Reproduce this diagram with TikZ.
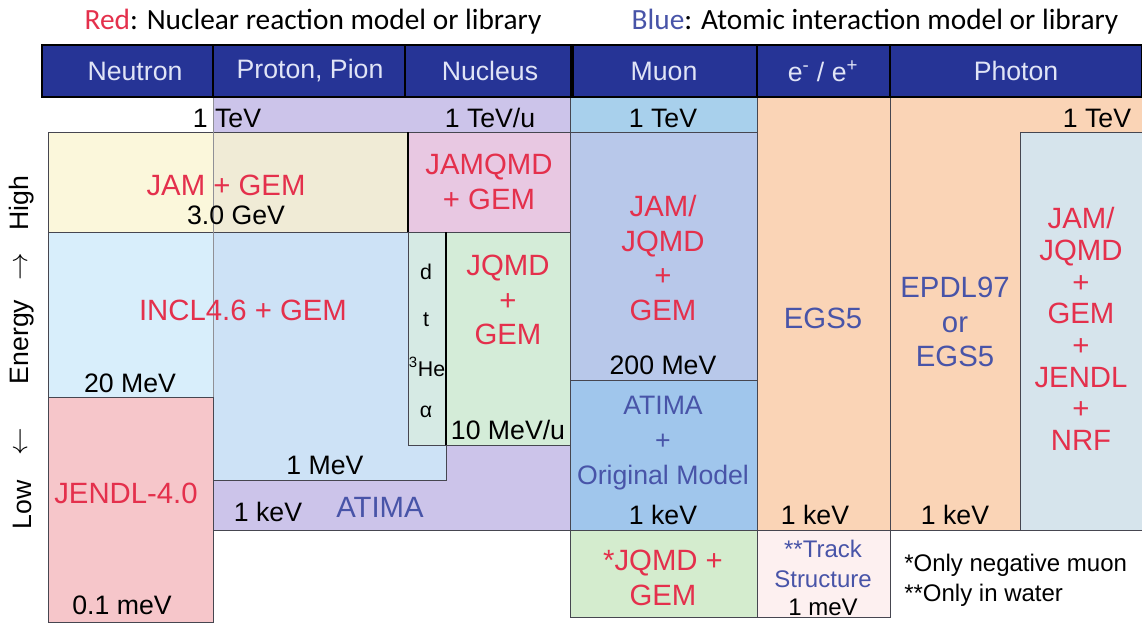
\documentclass[tikz,border=0pt]{standalone}
\usepackage{fontspec}
\setmainfont{Liberation Sans}
\newfontfamily\titlefont{Carlito}
\usepackage{tikz}

\definecolor{hdrblue}{RGB}{38,52,150}
\definecolor{hdrtext}{RGB}{224,228,246}
\definecolor{edge}{RGB}{70,70,80}
\definecolor{lav}{RGB}{204,196,234}
\definecolor{muontop}{RGB}{168,208,236}
\definecolor{peach}{RGB}{250,212,182}
\definecolor{jamyel}{RGB}{250,245,210}
\definecolor{qmdpink}{RGB}{232,200,226}
\definecolor{inclblue}{RGB}{206,234,250}
\definecolor{ionstrip}{RGB}{214,234,228}
\definecolor{qmdgreen}{RGB}{212,236,216}
\definecolor{jendlpink}{RGB}{246,198,202}
\definecolor{muonjam}{RGB}{184,200,234}
\definecolor{muonatima}{RGB}{160,198,236}
\definecolor{negmuon}{RGB}{212,236,206}
\definecolor{trackpink}{RGB}{253,240,240}
\definecolor{photinner}{RGB}{214,228,236}
\definecolor{nucred}{RGB}{228,48,76}
\definecolor{atmblue}{RGB}{72,84,168}

\begin{document}
\begin{tikzpicture}[x=0.75pt,y=0.75pt,yscale=-1,xscale=1,
    lbl/.style={inner sep=0.75pt, font=\fontsize{20}{22}\selectfont},
    nuc/.style={lbl, text=nucred, align=center, font=\fontsize{22}{26}\selectfont},
    atm/.style={lbl, text=atmblue, align=center, font=\fontsize{22}{26}\selectfont},
    hdr/.style={inner sep=0.75pt, text=hdrtext, font=\fontsize{20}{22}\selectfont},
    box/.style={draw=edge, line width=0.6pt}]
        \useasboundingbox (0,0) rectangle (1142,625);

        % Backgrounds
        \fill [lav] (213,97) rectangle (570,530);
        \fill [muontop] (570,97) rectangle (757,132);
        \draw [box, fill=peach] (757,97) rectangle (890,530);
        \draw [box, fill=peach] (890,97) rectangle (1142,530);

        % Neutron / proton / nucleus boxes
        \draw [box, fill=jamyel, fill opacity=0.8] (48,132) rectangle (408,232);
        \draw [box, fill=qmdpink] (408,132) rectangle (570,232);
        \draw [box, fill=inclblue, fill opacity=0.8] (48,232) rectangle (446,480);
        \draw [box, fill=ionstrip] (408,232) rectangle (446,445);
        \draw [box, fill=qmdgreen] (446,232) rectangle (570,445);
        \draw [box, fill=jendlpink] (48,397) rectangle (213,622);
        \draw [box] (213,480) -- (213,530) -- (570,530);
        \draw [edge!60, line width=0.5pt] (213,97) -- (213,397);
        \draw [line width=1.2pt] (408,132) -- (408,232);
        \draw [line width=1.2pt] (446,232) -- (446,445);

        % Muon column
        \draw [box, fill=muonjam] (570,132) rectangle (757,380);
        \draw [box, fill=muonatima] (570,380) rectangle (757,530);
        \draw [box, fill=negmuon] (570,530) rectangle (757,617);
        \draw [box] (570,97) -- (570,530);

        % e-/e+ and photon columns
        \draw [box, fill=trackpink] (757,530) rectangle (890,617);
        \draw [box, fill=photinner] (1020,132) rectangle (1142,530);

        % Header bar
        \draw [fill=hdrblue, line width=1.2pt] (42,45) rectangle (1142,97);
        \foreach \xd in {213,405,757,890}
            \draw [line width=1.2pt] (\xd,45) -- (\xd,97);
        \draw [line width=2.5pt] (572,45) -- (572,97);
        \node [hdr] (hneu) at (135,71) {Neutron};
        \node [hdr] (hpro) at (310,71) {Proton, Pion};
        \node [hdr] (hnuc) at (490,71) {Nucleus};
        \node [hdr] (hmuo) at (664,71) {Muon};
        \node [hdr] (hele) at (823,71) {e\textsuperscript{-} / e\textsuperscript{+}};
        \node [hdr] (hpho) at (1016,71) {Photon};

        % Legend
        \node [inner sep=0.75pt, font=\titlefont\fontsize{22}{24}\selectfont] (legred) at (313,22) {\textcolor{nucred}{Red}: Nuclear reaction model or library};
        \node [inner sep=0.75pt, font=\titlefont\fontsize{22}{24}\selectfont] (legblue) at (875,22) {\textcolor{atmblue}{Blue}: Atomic interaction model or library};

        % Energy axis
        \node [lbl, rotate=90] (axhigh) at (22,203) {High};
        \node [lbl, rotate=90] (axup) at (22,267) {$\rightarrow$};
        \node [lbl, rotate=90] (axen) at (22,342) {Energy};
        \node [lbl, rotate=90] (axdown) at (22,442) {$\leftarrow$};
        \node [lbl, rotate=90] (axlow) at (22,505) {Low};

        % Neutron, proton and nucleus labels
        \node [lbl] (tevp) at (227,118) {1 TeV};
        \node [lbl] (tevu) at (490,118) {1 TeV/u};
        \node [nuc] (jamgem) at (226,185) {JAM + GEM};
        \node [lbl] (gev3) at (236,215) {3.0 GeV};
        \node [nuc] (jamqmd) at (489,182) {JAMQMD\\+ GEM};
        \node [nuc] (incl) at (243,310) {INCL4.6 + GEM};
        \node [lbl] (mev20) at (130,383) {20 MeV};
        \node [lbl] (mev1) at (325,465) {1 MeV};
        \node [lbl, font=\fontsize{16}{18}\selectfont] (iond) at (426,272) {d};
        \node [lbl, font=\fontsize{16}{18}\selectfont] (iont) at (426,320) {t};
        \node [lbl, font=\fontsize{16}{18}\selectfont] (ionhe) at (427,367) {\textsuperscript{3}He};
        \node [lbl, font=\fontsize{16}{18}\selectfont] (iona) at (426,412) {α};
        \node [nuc] (jqmd) at (508,300) {JQMD\\+\\GEM};
        \node [lbl] (mevu) at (508,430) {10 MeV/u};
        \node [lbl] (kevp) at (268,512) {1 keV};
        \node [atm] (atima) at (380,507) {ATIMA};
        \node [nuc] (jendl) at (126,493) {JENDL-4.0};
        \node [lbl] (mevn) at (122,605) {0.1 meV};

        % Muon labels
        \node [lbl] (tevm) at (663,118) {1 TeV};
        \node [nuc] (muonjamqmd) at (663,258) {JAM/\\JQMD\\+\\GEM};
        \node [lbl] (mev200) at (663,365) {200 MeV};
        \node [atm, font=\fontsize{20}{26}\selectfont] (muonatima) at (663,443) {ATIMA\\+\\Original Model};
        \node [lbl] (kevm) at (663,515) {1 keV};
        \node [nuc] (negjqmd) at (663,578) {*JQMD +\\GEM};

        % Electron labels
        \node [atm] (egs) at (823,318) {EGS5};
        \node [lbl] (keve) at (815,515) {1 keV};
        \node [atm, font=\fontsize{18}{23}\selectfont] (track) at (823,564) {**Track\\Structure};
        \node [lbl, font=\fontsize{18}{20}\selectfont] (meve) at (823,607) {1 meV};

        % Photon labels
        \node [lbl] (tevph) at (1097,118) {1 TeV};
        \node [atm] (epdl) at (955,322) {EPDL97\\or\\EGS5};
        \node [lbl] (kevph) at (955,515) {1 keV};
        \node [nuc, font=\fontsize{22}{23.8}\selectfont] (photnuc) at (1081,329) {JAM/\\JQMD\\+\\GEM\\+\\JENDL\\+\\NRF};

        % Notes
        \node [lbl, anchor=west, font=\fontsize{18}{20}\selectfont] (noteone) at (903,565) {*Only negative muon};
        \node [lbl, anchor=west, font=\fontsize{18}{20}\selectfont] (notetwo) at (903,595) {**Only in water};
\end{tikzpicture}
\end{document}
